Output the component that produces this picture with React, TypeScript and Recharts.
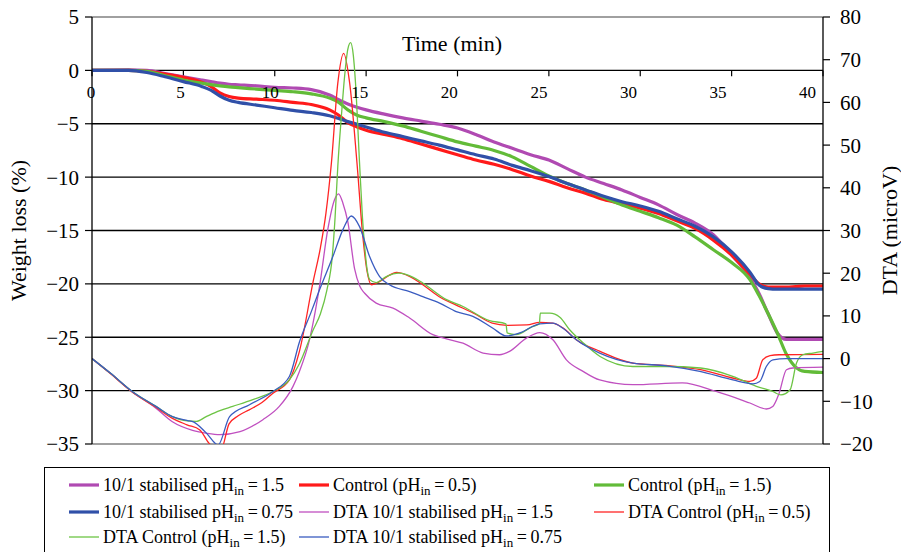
import React from 'react';
import { LineChart, Line, XAxis, YAxis, ReferenceLine } from 'recharts';

const FONT = "'Liberation Serif', 'Times New Roman', Times, serif";

// ---------- axis ticks ----------
const timeTicks = [0, 5, 10, 15, 20, 25, 30, 35, 40];
const weightTicks = [-35, -30, -25, -20, -15, -10, -5, 0, 5];
const dtaTicks = [-20, -10, 0, 10, 20, 30, 40, 50, 60, 70, 80];
const blackGrid = [-30, -25, -20, -15, -10, -5];
const grayGrid = [5, -35];

// ---------- weight loss (%) ----------
const weightTime = [0, 2, 3, 4, 5, 6, 6.5, 7, 7.5, 8, 9, 10, 11, 12, 13, 13.5, 14, 14.5, 15, 16, 17, 18, 19, 20, 21, 22, 23, 24, 25, 26, 27, 28, 29, 30, 31, 32, 33, 34, 35, 36, 36.5, 37, 37.5, 38, 38.5, 39, 40];
const weightStab15 = [0, 0.05, 0, -0.3, -0.6, -0.9, -1.05, -1.2, -1.3, -1.35, -1.45, -1.6, -1.65, -1.8, -2.3, -2.75, -3.15, -3.45, -3.7, -4.1, -4.45, -4.75, -5.05, -5.4, -6.0, -6.7, -7.3, -7.9, -8.4, -9.2, -10.0, -10.6, -11.2, -11.9, -12.6, -13.5, -14.3, -15.4, -17.3, -19.4, -20.9, -22.8, -24.6, -25.2, -25.2, -25.2, -25.2];
const weightControl05 = [0, 0, -0.1, -0.35, -0.65, -1.1, -1.5, -2.1, -2.45, -2.6, -2.7, -2.8, -3.0, -3.2, -3.7, -4.2, -4.9, -5.3, -5.6, -6.0, -6.4, -6.9, -7.4, -7.9, -8.4, -8.8, -9.3, -9.9, -10.4, -11.0, -11.5, -12.1, -12.5, -12.9, -13.4, -14.1, -14.8, -15.9, -17.3, -19.1, -20.0, -20.3, -20.3, -20.3, -20.25, -20.2, -20.2];
const weightControl15 = [0, 0, -0.1, -0.5, -0.9, -1.2, -1.33, -1.45, -1.55, -1.62, -1.75, -1.88, -2.0, -2.2, -2.6, -3.0, -3.7, -4.2, -4.45, -4.8, -5.2, -5.7, -6.2, -6.7, -7.1, -7.5, -8.1, -9.0, -9.9, -10.6, -11.2, -11.9, -12.6, -13.2, -13.8, -14.5, -15.6, -16.8, -18.0, -19.6, -21.1, -22.8, -24.6, -26.6, -27.8, -28.2, -28.3];
const weightStab075 = [0, 0, -0.2, -0.6, -1.05, -1.5, -1.85, -2.4, -2.8, -3.0, -3.25, -3.5, -3.75, -3.95, -4.25, -4.5, -4.8, -5.05, -5.3, -5.8, -6.2, -6.6, -7.0, -7.45, -7.9, -8.3, -8.9, -9.4, -9.95, -10.6, -11.2, -11.8, -12.3, -12.7, -13.2, -13.9, -14.6, -15.6, -17.0, -18.9, -20.1, -20.45, -20.5, -20.5, -20.5, -20.5, -20.5];

// ---------- DTA (microV) ----------
const dtaStab15Time = [0, 1, 2.2, 3.5, 4.4, 5.5, 6.3, 7.0, 8.1, 9.35, 10.25, 11.0, 11.35, 11.9, 12.45, 12.9, 13.27, 13.49, 13.73, 14.0, 14.37, 14.65, 14.92, 15.55, 16.47, 17.38, 18.65, 19.4, 20.3, 21.4, 22.3, 22.85, 23.77, 24.5, 25.22, 25.96, 26.87, 27.78, 29.6, 32.3, 34.15, 36.0, 36.9, 37.25, 37.6, 38.0, 38.35, 40];
const dtaStab15 = [0, -3.4, -7.8, -11.6, -14.8, -16.8, -17.5, -17.8, -17.1, -14.3, -11.2, -6.5, -3.0, 4.4, 16.9, 30.2, 37.2, 38.6, 36.4, 32, 21, 17, 15.3, 13.0, 11.8, 9.5, 5.6, 4.6, 3.6, 1.3, 0.9, 1.7, 4.8, 6.1, 4.4, -0.3, -3.0, -5.0, -6.1, -5.7, -7.7, -10.4, -11.8, -11.2, -8.1, -2.6, -2.2, -2.0];

const dtaControl05Time = [0, 1, 2.2, 3.5, 4.4, 5.2, 5.9, 6.4, 7.05, 7.5, 8.0, 8.6, 9.3, 9.9, 10.8, 11.35, 12.1, 12.5, 12.8, 13.1, 13.45, 13.77, 14.1, 14.5, 14.82, 15.05, 15.3, 15.75, 16.3, 16.65, 17.4, 18.1, 19.0, 19.9, 20.85, 21.9, 22.7, 23.8, 24.5, 25.2, 25.8, 26.5, 27.8, 29.6, 31.4, 33.3, 35.1, 36.0, 36.35, 36.7, 37.1, 37.6, 40];
const dtaControl05 = [0, -3.5, -7.8, -11.4, -14.0, -15.5, -16.7, -19.8, -21.4, -15.3, -13.4, -12.0, -10.3, -8.1, -5.0, 1.7, 18.0, 26, 34, 45.8, 64.5, 71.5, 64.5, 45.8, 28.6, 20.5, 17.3, 18.1, 19.6, 20.2, 19.2, 17.3, 14.5, 12.6, 10.7, 8.3, 7.8, 7.9, 8.5, 8.3, 7.1, 4.4, 1.7, -1.05, -1.6, -2.6, -4.6, -5.35, -4.6, -0.3, 0.7, 0.9, 1.0];

const dtaControl15Time = [0, 1, 2.2, 3.5, 4.4, 5.2, 5.7, 6.25, 7.0, 7.7, 8.8, 9.9, 10.8, 11.35, 12.1, 12.5, 12.85, 13.15, 13.3, 13.45, 13.65, 13.82, 14.0, 14.15, 14.3, 14.42, 14.64, 14.8, 14.92, 15.05, 15.2, 15.55, 16.1, 16.8, 17.55, 18.1, 19.4, 20.3, 21.75, 22.65, 22.72, 23.2, 24.1, 24.48, 24.53, 25.05, 25.6, 26.15, 26.9, 27.8, 29.6, 31.4, 33.3, 35.1, 36.35, 37.25, 37.7, 38.2, 38.55, 38.9, 39.45, 40];
const dtaControl15 = [0, -3.4, -7.7, -11.2, -13.6, -14.6, -14.7, -13.6, -12.2, -11.2, -9.6, -7.7, -5.0, -1.2, 6.7, 10.5, 16, 24, 33, 45, 57, 66, 72.5, 74, 71, 64.5, 45.8, 33, 26.3, 21, 18.5, 17.8, 19.2, 20.0, 19.1, 17.7, 13.8, 12.2, 8.9, 8.15, 6.0, 5.6, 7.5, 8.15, 10.65, 10.65, 9.7, 6.7, 3.6, 0.5, -1.85, -1.85, -2.2, -4.2, -6.5, -7.7, -8.5, -7.3, -1.05, 0.9, 1.3, 1.7];

const dtaStab075Time = [0, 1, 2.2, 3.5, 4.4, 5.24, 5.55, 6.25, 6.9, 7.53, 8.62, 9.9, 10.8, 11.36, 12.0, 12.45, 13.18, 13.73, 14.19, 14.64, 15.19, 15.74, 16.28, 17.38, 18.1, 19.02, 19.93, 20.84, 21.94, 22.67, 23.4, 24.5, 25.22, 25.77, 26.5, 27.78, 29.6, 31.43, 33.26, 35.07, 36.17, 36.54, 36.9, 37.26, 38.0, 40];
const dtaStab075 = [0, -3.4, -7.7, -11.2, -13.6, -14.5, -14.8, -17.4, -20.2, -13.6, -10.8, -7.7, -4.2, 4.0, 11, 16.1, 23.9, 30.2, 33.4, 30.9, 23.9, 19.2, 17.3, 15.7, 14.5, 13.0, 11.0, 9.9, 7.1, 5.3, 6.0, 8.15, 8.3, 7.1, 4.4, 1.3, -1.05, -1.7, -3.0, -5.0, -5.9, -5.35, -1.85, -0.3, 0, 0];

const toPoints = (ts: number[], vs: number[]) => ts.map((t, i) => ({ t, v: vs[i] }));

type Series = {
  key: string;
  pre: string;
  val: string;
  post: string;
  axis: 'w' | 'd';
  color: string;
  width: number;
  data: { t: number; v: number }[];
};

// legend order (row by row, 3 columns)
const series: Series[] = [
  { key: 'ws15', pre: '10/1 stabilised pH', val: '1.5', post: '', axis: 'w', color: '#B04AB2', width: 3.2, data: toPoints(weightTime, weightStab15) },
  { key: 'wc05', pre: 'Control (pH', val: '0.5', post: ')', axis: 'w', color: '#FF1A1A', width: 3.2, data: toPoints(weightTime, weightControl05) },
  { key: 'wc15', pre: 'Control (pH', val: '1.5', post: ')', axis: 'w', color: '#62BB38', width: 3.2, data: toPoints(weightTime, weightControl15) },
  { key: 'ws075', pre: '10/1 stabilised pH', val: '0.75', post: '', axis: 'w', color: '#3050A8', width: 3.2, data: toPoints(weightTime, weightStab075) },
  { key: 'ds15', pre: 'DTA 10/1 stabilised pH', val: '1.5', post: '', axis: 'd', color: '#C050C0', width: 1.3, data: toPoints(dtaStab15Time, dtaStab15) },
  { key: 'dc05', pre: 'DTA Control (pH', val: '0.5', post: ')', axis: 'd', color: '#FF2424', width: 1.3, data: toPoints(dtaControl05Time, dtaControl05) },
  { key: 'dc15', pre: 'DTA Control (pH', val: '1.5', post: ')', axis: 'd', color: '#6CC444', width: 1.3, data: toPoints(dtaControl15Time, dtaControl15) },
  { key: 'ds075', pre: 'DTA 10/1 stabilised pH', val: '0.75', post: '', axis: 'd', color: '#3A5CC0', width: 1.3, data: toPoints(dtaStab075Time, dtaStab075) },
];

const legendColX = [24, 254, 549];
const legendRowY = [5, 32, 57];

const fmt = (v: number) => (v < 0 ? '\u2212' + Math.abs(v) : String(v));

export default function App() {
  const drawOrder = [...series.filter((s) => s.axis === 'w'), ...series.filter((s) => s.axis === 'd')];
  return (
    <div style={{ position: 'absolute', left: 0, top: 0, width: 901, height: 552, overflow: 'hidden', background: '#fff', fontFamily: FONT }}>
      <LineChart width={901} height={552} margin={{ top: 17, right: 0, bottom: 108, left: 0 }}>
        <XAxis type="number" dataKey="t" domain={[0, 40]} ticks={timeTicks} hide allowDataOverflow />
        <YAxis
          yAxisId="w"
          domain={[-35, 5]}
          ticks={weightTicks}
          allowDataOverflow
          width={92}
          tickSize={7}
          tickMargin={6}
          tickFormatter={fmt}
          axisLine={{ stroke: '#000', strokeWidth: 1.3 }}
          tickLine={{ stroke: '#000', strokeWidth: 1.2 }}
          tick={{ fill: '#000', fontSize: 21, fontFamily: FONT }}
          label={{ value: 'Weight loss (%)', angle: -90, position: 'insideLeft', offset: 18, style: { textAnchor: 'middle' }, fill: '#000', fontSize: 22, fontFamily: FONT }}
        />
        <YAxis
          yAxisId="d2"
          orientation="right"
          mirror
          width={0}
          domain={[-20, 80]}
          ticks={dtaTicks}
          allowDataOverflow
          tickSize={7}
          tick={false}
          axisLine={false}
          tickLine={{ stroke: '#000', strokeWidth: 1.2 }}
        />
        <YAxis
          yAxisId="d"
          orientation="right"
          domain={[-20, 80]}
          ticks={dtaTicks}
          allowDataOverflow
          width={78}
          tickSize={7}
          tickMargin={10}
          tickFormatter={fmt}
          axisLine={{ stroke: '#000', strokeWidth: 1.3 }}
          tickLine={{ stroke: '#000', strokeWidth: 1.2 }}
          tick={{ fill: '#000', fontSize: 21, fontFamily: FONT, textAnchor: 'start' }}
          label={{ value: 'DTA (microV)', angle: -90, position: 'insideRight', offset: 12, style: { textAnchor: 'middle' }, fill: '#000', fontSize: 22, fontFamily: FONT }}
        />
        {blackGrid.map((v) => (
          <ReferenceLine key={'g' + v} yAxisId="w" y={v} stroke="#000" strokeWidth={1.3} ifOverflow="visible" />
        ))}
        {grayGrid.map((v) => (
          <ReferenceLine key={'gg' + v} yAxisId="w" y={v} stroke="#808080" strokeWidth={1.5} ifOverflow="visible" />
        ))}
        <ReferenceLine yAxisId="w" y={0} stroke="#000" strokeWidth={1.4} ifOverflow="visible" />
        {timeTicks.map((t) => (
          <ReferenceLine
            key={'xt' + t}
            yAxisId="w"
            ifOverflow="visible"
            segment={[{ x: t, y: 0 }, { x: t, y: -0.56 }]}
            stroke="#000"
            strokeWidth={1.2}
            label={{ value: String(t), position: 'bottom', offset: 10, dx: -1 - t * 0.36, fill: '#000', fontSize: 17, fontFamily: FONT }}
          />
        ))}
        {drawOrder.map((s) => (
          <Line
            key={s.key}
            yAxisId={s.axis}
            data={s.data}
            dataKey="v"
            name={s.key}
            type="monotone"
            stroke={s.color}
            strokeWidth={s.width}
            dot={false}
            activeDot={false}
            isAnimationActive={false}
          />
        ))}
      </LineChart>

      <div style={{ position: 'absolute', left: 352, top: 33, width: 200, textAlign: 'center', fontSize: 22, lineHeight: '22px', color: '#000' }}>
        Time (min)
      </div>

      <div style={{ position: 'absolute', left: 44, top: 467, width: 786, height: 110, border: '1.5px solid #000', boxSizing: 'border-box' }}>
        {series.map((s, i) => (
          <div
            key={'lg' + s.key}
            style={{ position: 'absolute', left: legendColX[i % 3], top: legendRowY[Math.floor(i / 3)], height: 24, display: 'flex', alignItems: 'center', whiteSpace: 'nowrap', fontSize: 18, color: '#000' }}
          >
            <svg width={30} height={10} style={{ display: 'block' }}>
              <line x1={0} y1={5} x2={30} y2={5} stroke={s.color} strokeWidth={s.width} />
            </svg>
            <span style={{ marginLeft: 4 }}>
              {s.pre}
              <span style={{ fontSize: 13, position: 'relative', top: 4 }}>in</span>
              {'\u2009=\u2009' + s.val + s.post}
            </span>
          </div>
        ))}
      </div>
    </div>
  );
}
